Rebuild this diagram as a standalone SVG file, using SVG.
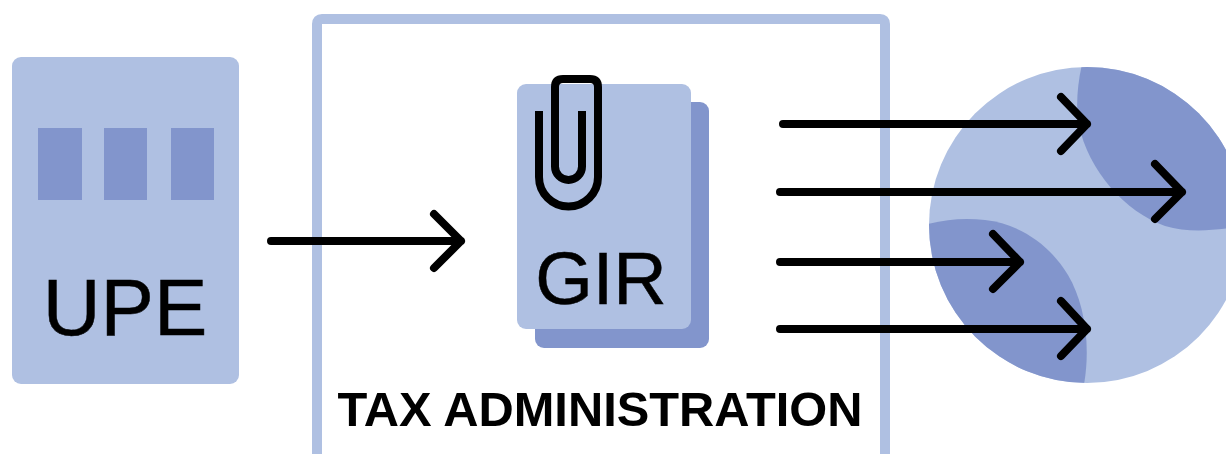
<svg xmlns="http://www.w3.org/2000/svg" width="1226" height="454" viewBox="0 0 1226 454">
<defs><style>
.l{fill:#afc0e2}.d{fill:#8295cc}
.a{fill:none;stroke:#000;stroke-width:8;stroke-linecap:round;stroke-linejoin:round}
.t{font-family:"Liberation Sans",Arial,sans-serif;fill:#000}
.s{stroke:#000;stroke-width:0.5}
</style>
<clipPath id="disc"><circle cx="1087" cy="225" r="158"/></clipPath>
</defs>
<rect width="1226" height="454" fill="#fff"/>
<g id="upe">
<rect class="l" x="12" y="57" width="227" height="327" rx="9"/>
<rect class="d" x="38" y="128" width="44" height="72"/>
<rect class="d" x="104" y="128" width="43" height="72"/>
<rect class="d" x="171" y="128" width="43" height="72"/>
<text class="t s" x="125" y="335" font-size="80" text-anchor="middle">UPE</text>
</g>
<g id="tax">
<path d="M317 454V24Q317 19 322 19H880Q885 19 885 24V454" fill="none" stroke="#afc0e2" stroke-width="10"/>
<text class="t" x="600" y="426" font-size="48.800" font-weight="bold" text-anchor="middle">TAX ADMINISTRATION</text>
</g>
<g id="gir">
<rect class="d" x="535" y="102" width="174" height="246" rx="9"/>
<rect class="l" x="517" y="84" width="174" height="245" rx="9"/>
<path d="M539 111V177A29.5 29.5 0 0 0 598 177V87Q598 79 590 79H563Q555 79 555 87V166.500A13.5 13.500 0 0 0 582 166.500V111" fill="none" stroke="#000" stroke-width="8"/>
<text class="t s" x="601" y="304" font-size="74" text-anchor="middle">GIR</text>
</g>
<g id="globe">
<circle class="l" cx="1087" cy="225" r="158"/>
<g clip-path="url(#disc)">
<path class="d" d="M1083 60C1078 80 1075 105 1079 125C1088 170 1125 212 1165 226C1185 232 1208 231 1230 228V60Z"/>
<path class="d" d="M925 225C945 219 965 218 985 220C1020 224 1050 245 1068 275C1084 302 1092 345 1083 390H925Z"/>
</g>
</g>
<g id="connectors">
<path class="a" d="M783 124H1087M1061 97L1087 124L1061 151"/>
<path class="a" d="M780 192H1182M1155 164L1182 192L1155 219"/>
<path class="a" d="M780 262H1020M993 234L1020 262L993 289"/>
<path class="a" d="M780 329H1087M1061 301L1087 329L1061 356"/>
<path class="a" d="M271 241H461M434 214L461 241L434 268"/>
</g>
</svg>
